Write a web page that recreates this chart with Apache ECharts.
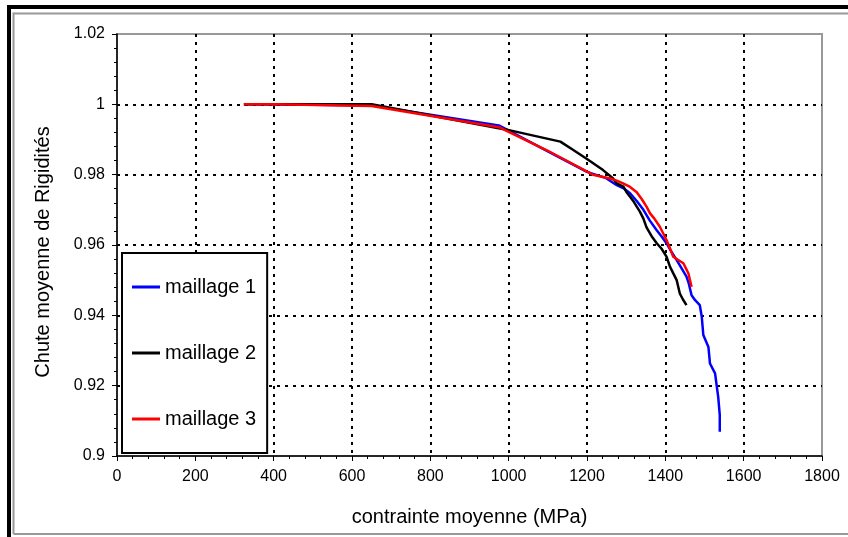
<!DOCTYPE html>
<html>
<head>
<meta charset="utf-8">
<script src="https://cdn.jsdelivr.net/npm/echarts@6/dist/echarts.min.js"></script>
<style>
  html, body { margin: 0; padding: 0; background: #fff; }
  #chart { width: 848px; height: 537px; }
</style>
</head>
<body>
<div id="chart"></div>
<script>
// données : [contrainte (MPa), chute de rigidité]
const seriesNames = ['maillage 1', 'maillage 2', 'maillage 3']
const seriesColors = ['#0000ff', '#000000', '#ff0000']

const maillage1 = [
  [324, 1.0], [405, 1.0], [410, 0.9998], [650, 0.9997], [975, 0.9940],
  [1100, 0.9866], [1200, 0.9808], [1249, 0.9790], [1276, 0.9770], [1295, 0.9760],
  [1310, 0.9747], [1327, 0.9725], [1344, 0.9700], [1360, 0.9670], [1378, 0.9642],
  [1390, 0.9625], [1403, 0.9605], [1416, 0.9580], [1429, 0.9557], [1442, 0.9533],
  [1454, 0.9510], [1460, 0.9490], [1467, 0.9457], [1476, 0.9443], [1488, 0.9429],
  [1493, 0.9396], [1497, 0.9344], [1510, 0.9310], [1514, 0.9263], [1527, 0.9235],
  [1531, 0.9201], [1535, 0.9168], [1539, 0.9116], [1539, 0.9069]
]
const maillage2 = [
  [324, 1.0], [650, 1.0], [995, 0.9928], [1132, 0.9894], [1165, 0.9870],
  [1198, 0.9846], [1241, 0.9813], [1266, 0.9790], [1276, 0.9775], [1293, 0.9766],
  [1301, 0.9750], [1310, 0.9737], [1320, 0.9722], [1327, 0.9709], [1335, 0.9695],
  [1344, 0.9675], [1352, 0.9650], [1365, 0.9625], [1378, 0.9605], [1390, 0.9590],
  [1403, 0.9567], [1412, 0.9538], [1420, 0.9520], [1429, 0.9500], [1437, 0.9462],
  [1445, 0.9445], [1454, 0.9429]
]
const maillage3 = [
  [324, 1.0], [405, 1.0], [410, 0.9997], [650, 0.9995], [975, 0.9935],
  [1100, 0.9868], [1215, 0.9800], [1259, 0.9789], [1276, 0.9783], [1292, 0.9775],
  [1310, 0.9765], [1327, 0.9750], [1340, 0.9730], [1352, 0.9709], [1361, 0.9690],
  [1372, 0.9675], [1386, 0.9652], [1395, 0.9632], [1403, 0.9614], [1412, 0.9590],
  [1420, 0.9567], [1432, 0.9558], [1446, 0.9548], [1452, 0.9535], [1459, 0.9519],
  [1463, 0.9500], [1467, 0.9481]
]

const xMin = 0, xMax = 1800, xStep = 200
const yMin = 0.9, yMax = 1.02, yStep = 0.02

const font = "'Liberation Sans', Arial, sans-serif"
const gridDash = { color: '#000', width: 2, type: [3, 5] }

const chart = echarts.init(document.getElementById('chart'))
const option = {
  backgroundColor: '#fff',
  animation: false,
  textStyle: { fontFamily: font, color: '#000' },
  graphic: [
    // cadre extérieur
    { type: 'line', shape: { x1: 9, y1: 5, x2: 9, y2: 537 }, style: { stroke: '#000', lineWidth: 4 } },
    { type: 'line', shape: { x1: 7, y1: 7, x2: 848, y2: 7 }, style: { stroke: '#000', lineWidth: 4 } },
    { type: 'line', shape: { x1: 13.5, y1: 12.5, x2: 13.5, y2: 534 }, style: { stroke: '#999', lineWidth: 2 } },
    { type: 'line', shape: { x1: 13.5, y1: 13.5, x2: 848, y2: 13.5 }, style: { stroke: '#999', lineWidth: 2 } },
    { type: 'line', shape: { x1: 13.5, y1: 534, x2: 848, y2: 534 }, style: { stroke: '#999', lineWidth: 2 } }
  ],
  grid: {
    left: 117, right: 26, top: 34, bottom: 81,
    show: true, borderColor: '#999', borderWidth: 2, backgroundColor: '#fff'
  },
  legend: {
    orient: 'vertical',
    left: 122, top: 253,
    data: seriesNames,
    icon: 'rect',
    itemWidth: 28, itemHeight: 3,
    itemGap: 46,
    padding: [24, 11, 24, 10],
    backgroundColor: '#fff',
    borderColor: '#000', borderWidth: 2,
    textStyle: { fontSize: 20, fontFamily: font, color: '#000' }
  },
  xAxis: {
    type: 'value',
    min: xMin, max: xMax, interval: xStep,
    name: 'contrainte moyenne (MPa)',
    nameLocation: 'middle', nameGap: 51,
    nameTextStyle: { fontSize: 20, color: '#000' },
    axisLine: { show: true, lineStyle: { color: '#000', width: 1.5 } },
    axisTick: { show: true, length: 5, lineStyle: { color: '#000' } },
    minorTick: { show: true, splitNumber: 5, length: 3, lineStyle: { color: '#000' } },
    axisLabel: { fontSize: 16, color: '#000', margin: 13, formatter: v => String(v) },
    splitLine: { show: true, showMinLine: false, showMaxLine: false, lineStyle: gridDash }
  },
  yAxis: {
    type: 'value',
    min: yMin, max: yMax, interval: yStep,
    name: 'Chute moyenne de Rigidités',
    nameLocation: 'middle', nameGap: 64,
    nameTextStyle: { fontSize: 20, color: '#000', padding: [0, 14, 0, 0] },
    axisLine: { show: true, lineStyle: { color: '#000', width: 1.5 } },
    axisTick: { show: true, length: 5, lineStyle: { color: '#000' } },
    minorTick: { show: true, splitNumber: 5, length: 3, lineStyle: { color: '#000' } },
    axisLabel: {
      fontSize: 16, color: '#000', margin: 12,
      formatter: v => String(parseFloat(v.toFixed(2)))
    },
    splitLine: { show: true, showMinLine: false, showMaxLine: false, lineStyle: gridDash }
  },
  series: [maillage1, maillage2, maillage3].map((data, i) => ({
    name: seriesNames[i],
    type: 'line',
    data: data,
    showSymbol: false,
    symbol: 'none',
    color: seriesColors[i],
    lineStyle: { color: seriesColors[i], width: 2.5 }
  }))
}
chart.setOption(option)
</script>
</body>
</html>
